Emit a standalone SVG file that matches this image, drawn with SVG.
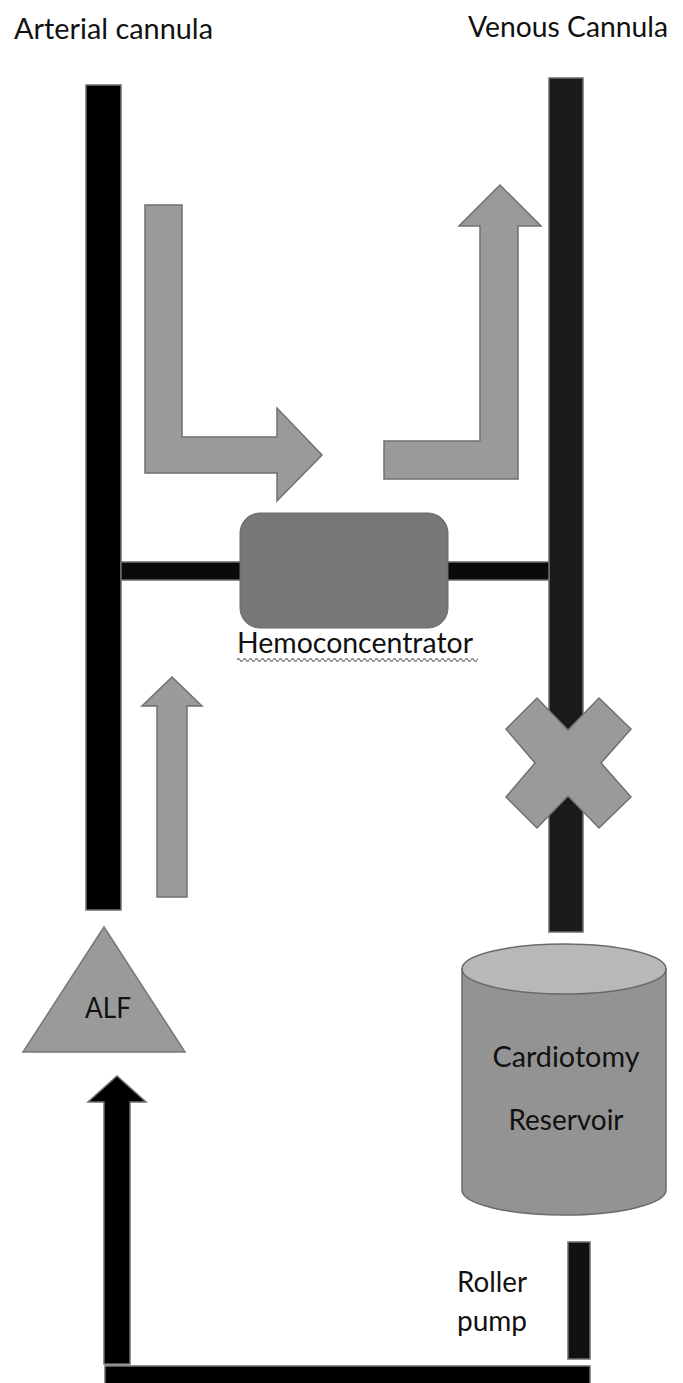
<svg xmlns="http://www.w3.org/2000/svg" width="683" height="1383" viewBox="0 0 683 1383">
  <style>
    .lbl { font-family: Lato, "Open Sans", "Liberation Sans", sans-serif; font-size: 28px; fill: #111; }
    .tube { stroke: #6e6e6e; stroke-width: 1.5; }
    .flow { fill: #9a9a9a; stroke: #707070; stroke-width: 1.5; stroke-linejoin: miter; }
  </style>
  <defs>
    <pattern id="wave" patternUnits="userSpaceOnUse" x="237" y="657" width="6" height="6">
      <path d="M0 3 Q1.5 0.6 3 3 T6 3" fill="none" stroke="#7a7a7a" stroke-width="1.4"/>
    </pattern>
  </defs>
  <rect width="683" height="1383" fill="#ffffff"/>

  <!-- headings -->
  <text class="lbl" x="14" y="39" font-size="30" textLength="199" lengthAdjust="spacingAndGlyphs">Arterial cannula</text>
  <text class="lbl" x="468" y="37" font-size="30" textLength="200" lengthAdjust="spacingAndGlyphs">Venous Cannula</text>

  <!-- tubing -->
  <g id="connectors">
    <rect id="arterial-line" class="tube" x="86" y="85" width="35" height="825" fill="#000"/>
    <rect id="venous-line" class="tube" x="549" y="78" width="34" height="854" fill="#1a1a1a"/>
    <rect id="shunt-line" class="tube" x="121" y="562" width="428" height="18" fill="#0a0a0a"/>
    <rect id="pump-segment" class="tube" x="568" y="1242" width="22" height="117" fill="#111"/>
    <rect id="return-line" class="tube" x="105" y="1366" width="485" height="20" fill="#000"/>
    <path id="return-arrow" class="tube" fill="#000" d="M104 1364 V1102 H88 L117 1076 L146 1102 H130 V1364 Z"/>
  </g>

  <!-- flow direction arrows -->
  <g id="flow-in">
    <path class="flow" d="M145 205 H182 V437 H277 V408 L322 455 L277 501 V473 H145 Z"/>
  </g>
  <g id="flow-out">
    <path class="flow" d="M384 441 H480 V226 H459 L500 185 L541 226 H518 V479 H384 Z"/>
  </g>
  <g id="flow-up">
    <path class="flow" d="M157 897 V706 H142 L172 677 L202 706 H187 V897 Z"/>
  </g>

  <!-- hemoconcentrator -->
  <g id="hemoconcentrator">
    <rect x="240" y="513" width="208" height="115" rx="20" ry="20" fill="#777777" stroke="#6a6a6a" stroke-width="1"/>
    <text class="lbl" x="237" y="653" font-size="27" textLength="236" lengthAdjust="spacingAndGlyphs">Hemoconcentrator</text>
    <rect x="237" y="657" width="241" height="6" fill="url(#wave)"/>
  </g>

  <!-- clamp -->
  <g id="clamp">
    <path class="flow" d="M568 730 L599 698 L631 729 L601 763 L631 797 L599 828 L568 796 L537 828 L506 797 L535 763 L506 729 L537 698 Z"/>
  </g>

  <!-- arterial line filter -->
  <g id="alf">
    <path d="M104 927 L185 1052 L23 1052 Z" fill="#9a9a9a" stroke="#777" stroke-width="1.5"/>
    <text class="lbl" x="85" y="1018" font-size="22" textLength="46" lengthAdjust="spacingAndGlyphs">ALF</text>
  </g>

  <!-- cardiotomy reservoir -->
  <g id="reservoir">
    <path d="M462 969 V1190 A102 25 0 0 0 666 1190 V969 Z" fill="#939393" stroke="#6a6a6a" stroke-width="1.5"/>
    <ellipse cx="564" cy="969" rx="102" ry="25" fill="#b8b8b8" stroke="#6a6a6a" stroke-width="1.5"/>
    <text class="lbl" x="566" y="1067" text-anchor="middle" textLength="147" lengthAdjust="spacingAndGlyphs">Cardiotomy</text>
    <text class="lbl" x="566" y="1130" text-anchor="middle" textLength="115" lengthAdjust="spacingAndGlyphs">Reservoir</text>
  </g>

  <!-- roller pump -->
  <g id="roller-pump">
    <text class="lbl" x="457" y="1292" textLength="70" lengthAdjust="spacingAndGlyphs">Roller</text>
    <text class="lbl" x="457" y="1331" textLength="70" lengthAdjust="spacingAndGlyphs">pump</text>
  </g>
</svg>
